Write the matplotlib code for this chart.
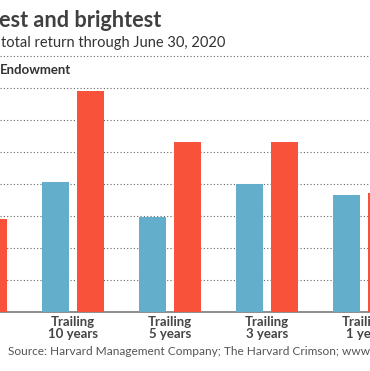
import numpy as np
import matplotlib
matplotlib.use("Agg")
import matplotlib.pyplot as plt

# ─── DATA ────────────────────────────────────────────────
periods   = ["Trailing\n20 years", "Trailing\n10 years", "Trailing\n5 years",
             "Trailing\n3 years", "Trailing\n1 year"]
harvard   = [np.nan, 8.1, 5.9, 8.0, 7.3]      # first group cut off in the crop
benchmark = [5.8, 13.8, 10.6, 10.6, 7.4]
yticks    = list(range(0, 17, 2))

BLUE = "#62AECB"; RED = "#F8533A"; GRID = "#666666"
plt.rcParams["font.family"] = ["Lato", "DejaVu Sans"]

W, H = 370, 371
fig = plt.figure(figsize=(W / 100, H / 100), dpi=100)
fig.patch.set_facecolor("white")

# axes placed in pixel terms: 0% at y=311.7px, 16 px per 1%
base_px, per_pct = 311.7, 16.0
ytop = 16.5
ax = fig.add_axes([0, (H - base_px) / H, 1, ytop * per_pct / H])

x = np.arange(len(periods))
bw, off = 0.278, 0.178
ax.bar(x - off, harvard, bw, color=BLUE, zorder=3)
ax.bar(x + off, benchmark, bw, color=RED, zorder=3)

ax.set_yticks(yticks)
ax.set_yticklabels([])
ax.tick_params(axis="y", length=0)
ax.grid(axis="y", color=GRID, linestyle=(0, (1, 2)), linewidth=0.8, zorder=0)
ax.set_axisbelow(True)
for s in ["top", "right", "left"]:
    ax.spines[s].set_visible(False)
ax.spines["bottom"].set_color("#7A7A7A")
ax.spines["bottom"].set_linewidth(1.2)

ax.set_xticks(x)
ax.set_xticklabels(periods, fontsize=9.5, fontweight="bold", color="#444444",
                   linespacing=1.05)
ax.tick_params(axis="x", length=0, pad=3)

# limits after ticks so they are not widened; 10y group centre at 72.9 px, 97 px apart
ax.set_xlim(1 - 72.9 / 97, 1 + (W - 72.9) / 97)
ax.set_ylim(0, ytop)

def fy(px):
    return 1 - px / H

fig.text(-0.003, fy(26.7), "est and brightest", fontsize=15.6, fontweight="bold",
         color="#404040", va="baseline", ha="left")
fig.text(0.003, fy(46.5), "total return through June 30, 2020", fontsize=10.5,
         color="#333333", va="baseline", ha="left")
fig.text(0.0, fy(74), "Endowment", fontsize=9.5, fontweight="bold",
         color="#333333", va="baseline", ha="left")
fig.text(8 / W, fy(355), "Source: Harvard Management Company; The Harvard Crimson; www.HulbertRatings.com",
         fontsize=8.6, color="#555555", va="baseline", ha="left")

fig.savefig("out.png", dpi=100, facecolor="white")
